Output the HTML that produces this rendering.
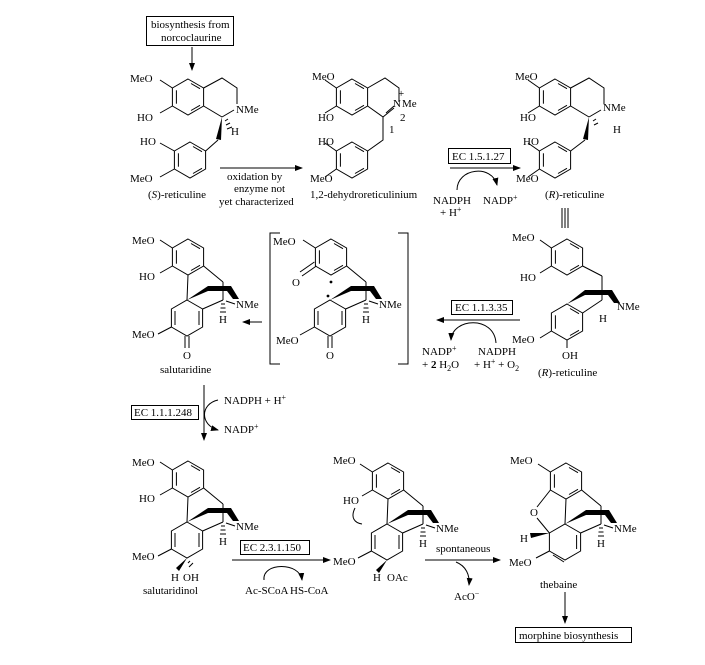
<!DOCTYPE html>
<html><head><meta charset="utf-8"><style>
html,body{margin:0;padding:0;background:#fff}
svg{display:block}
text{font-family:"Liberation Serif",serif;font-size:11px;fill:#000}
.l{stroke:#000;stroke-width:1;fill:none}
</style></head><body>
<svg width="705" height="665" viewBox="0 0 705 665" xmlns="http://www.w3.org/2000/svg">
<defs>
<marker id="ah" markerWidth="8" markerHeight="6" refX="7" refY="3" orient="auto"><path d="M0,0 L8,3 L0,6 Z" fill="#000"/></marker>
<g id="arom"><polygon class="l" points="0,-18 15.6,-9 15.6,9 0,18 -15.6,9 -15.6,-9"/><line class="l" x1="-11.6" y1="-6.7" x2="-11.6" y2="6.7"/><line class="l" x1="3" y1="-13.5" x2="12" y2="-8.3"/><line class="l" x1="3" y1="13.5" x2="12" y2="8.3"/></g>
<g id="morph">
<use href="#arom" x="188" y="257"/>
<polygon class="l" points="187,300 202.6,309 202.6,327 187,336 171.4,327 171.4,309"/>
<line class="l" x1="203.6" y1="266" x2="223" y2="282"/>
<line class="l" x1="223" y1="282" x2="223" y2="300"/>
<line class="l" x1="223" y1="300" x2="202.6" y2="309"/>
<polygon points="187,300 208,286 231,286 239,299 233,299 227,291 208,291" fill="#000"/>
<line class="l" x1="226" y1="301" x2="235" y2="304"/>
<text x="236" y="308">NMe</text>
<line class="l" x1="221" y1="304" x2="225" y2="304"/><line class="l" x1="220.5" y1="308" x2="225.5" y2="308"/><line class="l" x1="220" y1="312" x2="226" y2="312"/>
<text x="219" y="323">H</text>
<line class="l" x1="172.4" y1="248" x2="160" y2="240"/>
</g>
</defs>

<!-- top box -->
<rect class="l" x="146.5" y="16.5" width="87" height="29"/>
<text x="151" y="28">biosynthesis from</text>
<text x="161" y="41">norcoclaurine</text>
<line class="l" x1="192" y1="47" x2="192" y2="70" marker-end="url(#ah)"/>

<!-- (S)-reticuline -->
<use href="#arom" x="188" y="97"/>
<polyline class="l" points="203.6,88 222,78 237,88 237,104"/>
<line class="l" x1="203.6" y1="106" x2="222" y2="117"/><line class="l" x1="222" y1="117" x2="234" y2="110"/>
<text x="236" y="113">NMe</text>
<line class="l" x1="172.4" y1="88" x2="160" y2="80"/><text x="130" y="82">MeO</text>
<line class="l" x1="172.4" y1="106" x2="160" y2="113"/><text x="137" y="121">HO</text>
<polygon points="222,117 216,139 221,140" fill="#000"/>
<line class="l" x1="225" y1="121" x2="228" y2="119"/><line class="l" x1="226" y1="125" x2="230" y2="123"/><line class="l" x1="227" y1="129" x2="232" y2="127"/>
<text x="231" y="135">H</text>
<line class="l" x1="218" y1="140" x2="205.6" y2="151"/>
<use href="#arom" x="190" y="160"/>
<line class="l" x1="174.4" y1="151" x2="160" y2="143"/><text x="140" y="145">HO</text>
<line class="l" x1="174.4" y1="169" x2="160" y2="177"/><text x="130" y="182">MeO</text>
<text x="148" y="198">(<tspan font-style="italic">S</tspan>)-reticuline</text>

<line class="l" x1="220" y1="168" x2="302" y2="168" marker-end="url(#ah)"/>
<text x="227" y="180">oxidation by</text>
<text x="234" y="192">enzyme not</text>
<text x="219" y="205">yet characterized</text>

<!-- dehydroreticulinium -->
<use href="#arom" x="352" y="97"/>
<polyline class="l" points="367.6,88 385,78 399,88 399,102"/>
<line class="l" x1="367.6" y1="106" x2="383" y2="117"/><line class="l" x1="383" y1="117" x2="394" y2="108"/><line class="l" x1="386" y1="113" x2="394" y2="106"/>
<text x="393" y="107">N</text><text x="402" y="107" font-size="10">Me</text>
<text x="398" y="97" font-size="10">+</text><text x="400" y="121" font-size="9">2</text><text x="389" y="133" font-size="9">1</text>
<line class="l" x1="336.4" y1="88" x2="325" y2="80"/><text x="312" y="80">MeO</text>
<line class="l" x1="336.4" y1="106" x2="325" y2="113"/><text x="318" y="121">HO</text>
<polyline class="l" points="383,117 383,140 367.6,151"/>
<use href="#arom" x="352" y="160"/>
<line class="l" x1="336.4" y1="151" x2="325" y2="143"/><text x="318" y="145">HO</text>
<line class="l" x1="336.4" y1="169" x2="325" y2="177"/><text x="310" y="182">MeO</text>
<text x="310" y="198">1,2-dehydroreticulinium</text>

<rect class="l" x="448.5" y="148.5" width="62" height="15"/>
<text x="452" y="160">EC 1.5.1.27</text>
<line class="l" x1="450" y1="168" x2="520" y2="168" marker-end="url(#ah)"/>
<path class="l" d="M457,190 C457,168 492,164 497,185" marker-end="url(#ah)"/>
<text x="433" y="204">NADPH</text><text x="440" y="216">+ H<tspan font-size="8" dy="-4">+</tspan></text>
<text x="483" y="204">NADP<tspan font-size="8" dy="-4">+</tspan></text>

<!-- (R)-reticuline top -->
<use href="#arom" x="555" y="97"/>
<polyline class="l" points="570.6,88 589,78 604,88 604,104"/>
<line class="l" x1="570.6" y1="106" x2="589" y2="117"/><line class="l" x1="589" y1="117" x2="601" y2="110"/>
<text x="603" y="111">NMe</text>
<line class="l" x1="539.4" y1="88" x2="528" y2="80"/><text x="515" y="80">MeO</text>
<line class="l" x1="539.4" y1="106" x2="528" y2="113"/><text x="520" y="121">HO</text>
<polygon points="589,117 583,139 588,140" fill="#000"/>
<line class="l" x1="593" y1="121" x2="596" y2="119"/><line class="l" x1="594" y1="125" x2="598" y2="123"/>
<text x="613" y="133">H</text>
<line class="l" x1="585" y1="140" x2="570.6" y2="151"/>
<use href="#arom" x="555" y="160"/>
<line class="l" x1="539.4" y1="151" x2="528" y2="143"/><text x="523" y="145">HO</text>
<line class="l" x1="539.4" y1="169" x2="528" y2="177"/><text x="516" y="182">MeO</text>
<text x="545" y="198">(<tspan font-style="italic">R</tspan>)-reticuline</text>
<line class="l" x1="562" y1="208" x2="562" y2="228"/><line class="l" x1="565" y1="208" x2="565" y2="228"/><line class="l" x1="568" y1="208" x2="568" y2="228"/>

<!-- (R)-reticuline bottom -->
<use href="#arom" x="567" y="257"/>
<line class="l" x1="551.4" y1="248" x2="540" y2="240"/><text x="512" y="241">MeO</text>
<line class="l" x1="551.4" y1="266" x2="540" y2="273"/><text x="520" y="281">HO</text>
<line class="l" x1="582.6" y1="266" x2="602" y2="276"/><line class="l" x1="602" y1="276" x2="602" y2="300"/>
<use href="#arom" x="567" y="322"/>
<polygon points="567,304 585,290 612,290 620,303 614,303 608,295 585,295" fill="#000"/>
<line class="l" x1="582.6" y1="313" x2="602" y2="300"/>
<text x="617" y="310">NMe</text>
<text x="599" y="322">H</text>
<line class="l" x1="551.4" y1="331" x2="540" y2="338"/><text x="512" y="343">MeO</text>
<line class="l" x1="567" y1="340" x2="567" y2="348"/><text x="562" y="359">OH</text>
<text x="538" y="376">(<tspan font-style="italic">R</tspan>)-reticuline</text>

<rect class="l" x="451.5" y="300.5" width="61" height="14"/>
<text x="455" y="311">EC 1.1.3.35</text>
<line class="l" x1="520" y1="320" x2="437" y2="320" marker-end="url(#ah)"/>
<path class="l" d="M496,343 C494,315 452,318 451,340" marker-end="url(#ah)"/>
<text x="422" y="355">NADP<tspan font-size="8" dy="-4">+</tspan></text>
<text x="422" y="368">+ <tspan font-weight="bold">2</tspan> H<tspan font-size="8" dy="3">2</tspan><tspan dy="-3">O</tspan></text>
<text x="478" y="355">NADPH</text>
<text x="474" y="368">+ H<tspan font-size="8" dy="-4">+</tspan><tspan dy="4"> + O</tspan><tspan font-size="8" dy="3">2</tspan></text>

<!-- intermediate in brackets -->
<polyline class="l" points="280,233 270,233 270,364 280,364"/>
<polyline class="l" points="398,233 408,233 408,364 398,364"/>
<g transform="translate(143,0)"><use href="#morph"/></g>
<text x="273" y="245">MeO</text>
<line class="l" x1="316.4" y1="266" x2="302" y2="276"/><line class="l" x1="314.4" y1="262" x2="300" y2="272"/>
<text x="292" y="286">O</text>
<circle cx="331" cy="282" r="1.4"/><circle cx="328" cy="296" r="1.4"/>
<line class="l" x1="314.4" y1="327" x2="300" y2="335"/>
<line class="l" x1="318" y1="311" x2="318" y2="325"/><line class="l" x1="342" y1="311" x2="342" y2="325"/>
<text x="276" y="344">MeO</text>
<line class="l" x1="328" y1="336" x2="328" y2="348"/><line class="l" x1="332" y1="336" x2="332" y2="348"/>
<text x="326" y="359">O</text>

<!-- salutaridine -->
<use href="#morph"/>
<line class="l" x1="188" y1="275" x2="187" y2="300"/>
<text x="132" y="244">MeO</text><line class="l" x1="172.4" y1="266" x2="160" y2="273"/><text x="139" y="280">HO</text>
<line class="l" x1="175" y1="311" x2="175" y2="325"/><line class="l" x1="199" y1="311" x2="199" y2="325"/>
<line class="l" x1="171.4" y1="327" x2="158" y2="334"/>
<text x="132" y="338">MeO</text>
<line class="l" x1="185" y1="336" x2="185" y2="348"/><line class="l" x1="189" y1="336" x2="189" y2="348"/>
<text x="183" y="359">O</text>
<text x="160" y="373">salutaridine</text>
<line class="l" x1="262" y1="322" x2="243" y2="322" marker-end="url(#ah)"/>

<line class="l" x1="204" y1="385" x2="204" y2="440" marker-end="url(#ah)"/>
<rect class="l" x="131.5" y="405.5" width="67" height="14"/>
<text x="134" y="416">EC 1.1.1.248</text>
<path class="l" d="M218,400 C200,404 200,425 218,430" marker-end="url(#ah)"/>
<text x="224" y="404">NADPH + H<tspan font-size="8" dy="-4">+</tspan></text>
<text x="224" y="433">NADP<tspan font-size="8" dy="-4">+</tspan></text>

<!-- salutaridinol -->
<g transform="translate(0,222)"><use href="#morph"/></g>
<line class="l" x1="188" y1="497" x2="187" y2="522"/>
<text x="132" y="466">MeO</text><line class="l" x1="172.4" y1="488" x2="160" y2="495"/><text x="139" y="502">HO</text>
<line class="l" x1="175" y1="533" x2="175" y2="547"/><line class="l" x1="199" y1="533" x2="199" y2="547"/>
<line class="l" x1="171.4" y1="549" x2="158" y2="556"/>
<text x="132" y="560">MeO</text>
<polygon points="187,558 176,568 179,571" fill="#000"/>
<line class="l" x1="190" y1="561" x2="188" y2="563"/><line class="l" x1="193" y1="563" x2="189" y2="567"/>
<text x="171" y="581">H</text><text x="183" y="581">OH</text>
<text x="143" y="594">salutaridinol</text>
<line class="l" x1="232" y1="560" x2="330" y2="560" marker-end="url(#ah)"/>
<rect class="l" x="240.5" y="540.5" width="69" height="14"/>
<text x="243" y="551">EC 2.3.1.150</text>
<path class="l" d="M264,580 C262,562 300,562 302,580" marker-end="url(#ah)"/>
<text x="245" y="594" font-size="10.5">Ac-SCoA</text><text x="290" y="594" font-size="10.5">HS-CoA</text>

<!-- acetate -->
<g transform="translate(200,224)"><use href="#morph"/></g>
<line class="l" x1="388" y1="499" x2="387" y2="524"/>
<text x="333" y="464">MeO</text><line class="l" x1="372.4" y1="490" x2="362" y2="496"/><text x="343" y="504">HO</text>
<line class="l" x1="375" y1="535" x2="375" y2="549"/><line class="l" x1="399" y1="535" x2="399" y2="549"/>
<path class="l" d="M355,508 C350,518 355,523 362,524"/>
<line class="l" x1="371.4" y1="551" x2="358" y2="558"/>
<text x="333" y="565">MeO</text>
<polygon points="387,560 376,570 379,573" fill="#000"/>
<text x="373" y="581">H</text><text x="387" y="581">OAc</text>
<line class="l" x1="425" y1="560" x2="500" y2="560" marker-end="url(#ah)"/>
<text x="436" y="552">spontaneous</text>
<path class="l" d="M456,562 C466,566 470,575 469,585" marker-end="url(#ah)"/>
<text x="454" y="600">AcO<tspan font-size="8" dy="-4">−</tspan></text>

<!-- thebaine -->
<g transform="translate(378,224)"><use href="#morph"/></g>
<line class="l" x1="566" y1="499" x2="565" y2="524"/>
<text x="510" y="464">MeO</text>
<line class="l" x1="550.4" y1="490" x2="537" y2="507"/><line class="l" x1="537" y1="518" x2="549.4" y2="533"/>
<text x="530" y="516">O</text>
<polygon points="549.4,533 530,533 531,538" fill="#000"/>
<text x="520" y="542">H</text>
<line class="l" x1="553" y1="555" x2="564" y2="562"/><line class="l" x1="576.6" y1="535" x2="576.6" y2="549"/>
<line class="l" x1="549.4" y1="551" x2="536" y2="558"/>
<text x="509" y="566">MeO</text>
<text x="540" y="588">thebaine</text>
<line class="l" x1="565" y1="592" x2="565" y2="623" marker-end="url(#ah)"/>
<rect class="l" x="515.5" y="627.5" width="116" height="15"/>
<text x="519" y="639">morphine biosynthesis</text>
</svg>
</body></html>
